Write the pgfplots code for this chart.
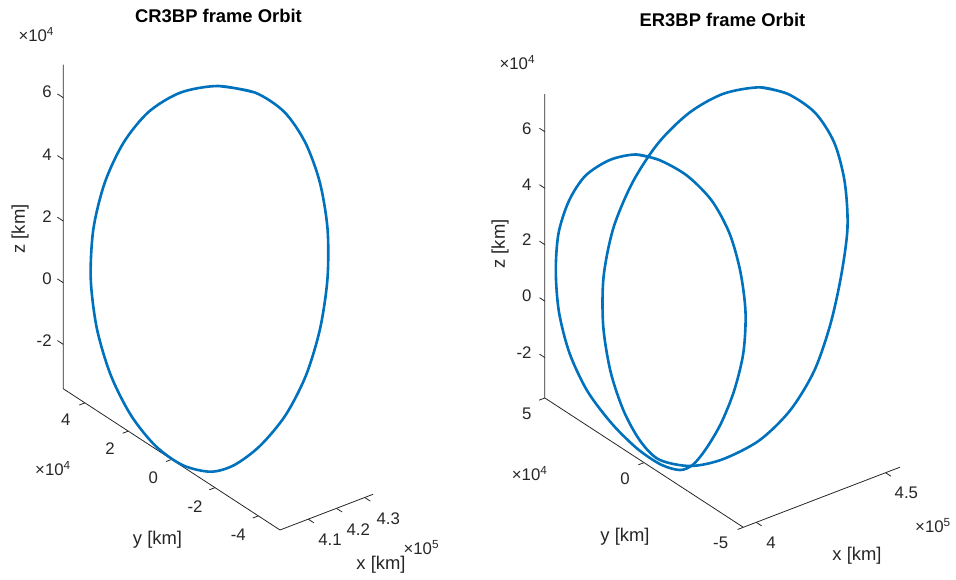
\documentclass[border=0pt]{standalone}
\usepackage{fontspec}
\setmainfont{Liberation Sans}
\usepackage{pgfplots}
\pgfplotsset{compat=1.18}
\usetikzlibrary{calc}
\definecolor{mblue}{RGB}{0,114,189}
\definecolor{axc}{RGB}{38,38,38}
\newcommand{\tickf}{\fontsize{16.8}{20}\selectfont}
\newcommand{\labf}{\fontsize{18.4}{22}\selectfont}
\tikzset{axl/.style={axc, line width=0.8pt}}
\pgfplotsset{
  orbit/.style={mblue, line width=2.6pt, line join=round, line cap=round, smooth, mark=none},
  leftax/.style={
    x={(28.245pt,10.837pt)}, y={(-21.673pt,14.123pt)}, z={(0pt,30.83pt)},
    xmin=40, xmax=43.3, ymin=-5, ymax=5, zmin=-3.44, zmax=7.07,
    hide axis, clip=false, anchor=south west},
  rightax/.style={
    x={(25.865pt,9.923pt)}, y={(-19.847pt,12.932pt)}, z={(0pt,28.232pt)},
    xmin=39.5, xmax=45.55, ymin=-5, ymax=5, zmin=-3.43, zmax=7.33,
    hide axis, clip=false, anchor=south west},
}
\begin{document}
\begin{tikzpicture}
% dummy copy of the right axes, only to measure where its corner falls
\begin{axis}[rightax, at={(0pt,0pt)}]
\coordinate (Rd) at (axis cs:39.5,-5,-3.43);
\end{axis}
% ---------------- left: CR3BP (units of 10^4 km) ----------------
\begin{axis}[leftax, at={(0pt,0pt)}]
\draw[axl] (axis cs:40,5,7.07) -- (axis cs:40,5,-3.44) -- (axis cs:40,-5,-3.44) -- (axis cs:43.3,-5,-3.44);
\draw[axl] (axis cs:40,5,-2) -- (axis cs:40,5.27,-2);
\draw[axl] (axis cs:40,5,0) -- (axis cs:40,5.27,0);
\draw[axl] (axis cs:40,5,2) -- (axis cs:40,5.27,2);
\draw[axl] (axis cs:40,5,4) -- (axis cs:40,5.27,4);
\draw[axl] (axis cs:40,5,6) -- (axis cs:40,5.27,6);
\draw[axl] (axis cs:40,-4,-3.44) -- (axis cs:39.8,-4,-3.44);
\draw[axl] (axis cs:40,-2,-3.44) -- (axis cs:39.8,-2,-3.44);
\draw[axl] (axis cs:40,0,-3.44) -- (axis cs:39.8,0,-3.44);
\draw[axl] (axis cs:40,2,-3.44) -- (axis cs:39.8,2,-3.44);
\draw[axl] (axis cs:40,4,-3.44) -- (axis cs:39.8,4,-3.44);
\draw[axl] (axis cs:41,-5,-3.44) -- (axis cs:41,-5.26,-3.44);
\draw[axl] (axis cs:42,-5,-3.44) -- (axis cs:42,-5.26,-3.44);
\draw[axl] (axis cs:43,-5,-3.44) -- (axis cs:43,-5.26,-3.44);
\addplot3[orbit] coordinates {
(43.162,1.968,6.658) (43.239,0.376,7.147) (43.136,-1.106,7.237) (42.901,-2.385,6.911)
(42.579,-3.478,6.229) (42.207,-4.317,5.236) (41.819,-4.819,3.983) (41.443,-4.968,2.565)
(41.094,-4.775,1.090) (40.782,-4.236,-0.342) (40.508,-3.417,-1.615) (40.284,-2.513,-2.575)
(40.133,-1.629,-3.140) (40.022,-0.476,-3.416) (39.973,0.711,-3.318) (39.995,1.872,-2.863)
(40.102,2.939,-2.094) (40.310,3.851,-1.076) (40.625,4.546,0.113) (41.044,4.970,1.391)
(41.534,5.080,2.677) (42.041,4.872,3.890) (42.509,4.328,4.968) (42.900,3.365,5.897)
(43.162,1.968,6.658) (43.239,0.376,7.147)
};
\coordinate (L0) at (axis cs:40,-5,-3.44);
\end{axis}
\coordinate (Rpos) at ($(L0)+(463.3pt,2.7pt)-(Rd)$);
% ---------------- right: ER3BP (units of 10^4 km) ----------------
\begin{axis}[rightax, at={(Rpos)}]
\draw[axl] (axis cs:39.5,5,7.33) -- (axis cs:39.5,5,-3.43) -- (axis cs:39.5,-5,-3.43) -- (axis cs:45.55,-5,-3.43);
\draw[axl] (axis cs:39.5,5,-2) -- (axis cs:39.5,5.27,-2);
\draw[axl] (axis cs:39.5,5,0) -- (axis cs:39.5,5.27,0);
\draw[axl] (axis cs:39.5,5,2) -- (axis cs:39.5,5.27,2);
\draw[axl] (axis cs:39.5,5,4) -- (axis cs:39.5,5.27,4);
\draw[axl] (axis cs:39.5,5,6) -- (axis cs:39.5,5.27,6);
\draw[axl] (axis cs:39.5,-5,-3.43) -- (axis cs:39.28,-5,-3.43);
\draw[axl] (axis cs:39.5,0,-3.43) -- (axis cs:39.28,0,-3.43);
\draw[axl] (axis cs:39.5,5,-3.43) -- (axis cs:39.28,5,-3.43);
\draw[axl] (axis cs:40,-5,-3.43) -- (axis cs:40,-5.27,-3.43);
\draw[axl] (axis cs:45,-5,-3.43) -- (axis cs:45,-5.27,-3.43);
\addplot3[orbit] coordinates {
(45.196,1.582,7.137) (45.350,0.396,7.398) (45.347,-0.993,7.366) (45.133,-2.244,6.948)
(44.729,-3.294,6.182) (44.179,-4.152,5.150) (43.508,-4.699,3.901) (42.799,-5.069,2.584)
(42.089,-5.188,1.271) (41.392,-4.888,-0.011) (40.750,-4.163,-1.183) (40.197,-3.019,-2.182)
(39.843,-1.868,-2.814) (39.660,-0.544,-3.127) (39.735,0.512,-2.968) (39.973,1.652,-2.508)
(40.354,2.805,-1.781) (40.866,3.839,-0.817) (41.485,4.626,0.341) (42.185,5.039,1.642)
(42.923,5.029,3.005) (43.635,4.661,4.312) (44.276,3.940,5.482) (44.803,2.918,6.435)
(45.196,1.582,7.137) (45.350,0.396,7.398)
};
\addplot3[orbit] coordinates {
(41.492,3.003,5.409) (41.482,1.831,5.758) (41.269,0.141,6.049) (40.880,-1.615,6.102)
(40.444,-3.075,5.768) (40.048,-4.136,5.045) (39.728,-4.815,4.022) (39.553,-4.932,2.691)
(39.522,-4.503,1.158) (39.562,-3.786,-0.342) (39.624,-2.959,-1.630) (39.673,-2.240,-2.535)
(39.742,-1.496,-3.091) (39.848,-0.400,-3.439) (39.922,0.881,-3.494) (39.911,2.152,-3.184)
(39.815,3.266,-2.504) (39.740,4.070,-1.498) (39.763,4.629,-0.316) (39.918,4.992,0.910)
(40.176,5.192,2.075) (40.547,5.146,3.123) (40.942,4.830,4.016) (41.306,4.070,4.794)
(41.492,3.003,5.409) (41.482,1.831,5.758)
};
\end{axis}
\pgfresetboundingbox
\coordinate (P0) at ($(L0)+(-280pt,530pt)$);
\useasboundingbox (P0) rectangle ($(P0)+(956pt,-580pt)$);
\begin{scope}[shift={(P0)}, x=1pt, y=-1pt, every node/.style={inner sep=0pt, text=axc}]
% left tick labels
\node[font=\tickf, anchor=east] at (51.8,92) {6};
\node[font=\tickf, anchor=east] at (51.8,155) {4};
\node[font=\tickf, anchor=east] at (51.8,217) {2};
\node[font=\tickf, anchor=east] at (51.8,278.3) {0};
\node[font=\tickf, anchor=east] at (51.8,340.7) {-2};
\node[font=\tickf] at (65.7,420) {4};
\node[font=\tickf] at (110,448.3) {2};
\node[font=\tickf] at (153.3,478) {0};
\node[font=\tickf] at (195,506.7) {-2};
\node[font=\tickf] at (238.3,534.5) {-4};
\node[font=\tickf] at (330,539.5) {4.1};
\node[font=\tickf] at (358.3,529.3) {4.2};
\node[font=\tickf] at (388.3,518.8) {4.3};
\node[font=\tickf, anchor=base west] at (18.3,41.7) {×10\textsuperscript{4}};
\node[font=\tickf, anchor=base west] at (35,475.7) {×10\textsuperscript{4}};
\node[font=\tickf, anchor=base west] at (403.3,555) {×10\textsuperscript{5}};
\node[font=\labf, rotate=90] at (20,229) {z [km]};
\node[font=\labf] at (157.5,540) {y [km]};
\node[font=\labf] at (381,565) {x [km]};
\node[font=\labf\bfseries, text=black] at (218.5,16) {CR3BP frame Orbit};
% right tick labels
\node[font=\tickf, anchor=east] at (531.7,128.3) {6};
\node[font=\tickf, anchor=east] at (531.7,184.3) {4};
\node[font=\tickf, anchor=east] at (531.7,240) {2};
\node[font=\tickf, anchor=east] at (531.7,296) {0};
\node[font=\tickf, anchor=east] at (531.7,352.3) {-2};
\node[font=\tickf] at (526.7,414) {5};
\node[font=\tickf] at (625,478.3) {0};
\node[font=\tickf] at (720.7,543.3) {-5};
\node[font=\tickf] at (771,543) {4};
\node[font=\tickf] at (906.4,493) {4.5};
\node[font=\tickf, anchor=base west] at (499.3,70) {×10\textsuperscript{4}};
\node[font=\tickf, anchor=base west] at (511.7,480.7) {×10\textsuperscript{4}};
\node[font=\tickf, anchor=base west] at (915,532.3) {×10\textsuperscript{5}};
\node[font=\labf, rotate=90] at (500,244) {z [km]};
\node[font=\labf] at (625,537) {y [km]};
\node[font=\labf] at (857,556) {x [km]};
\node[font=\labf\bfseries, text=black] at (722.5,19.5) {ER3BP frame Orbit};
\end{scope}
\end{tikzpicture}
\end{document}
